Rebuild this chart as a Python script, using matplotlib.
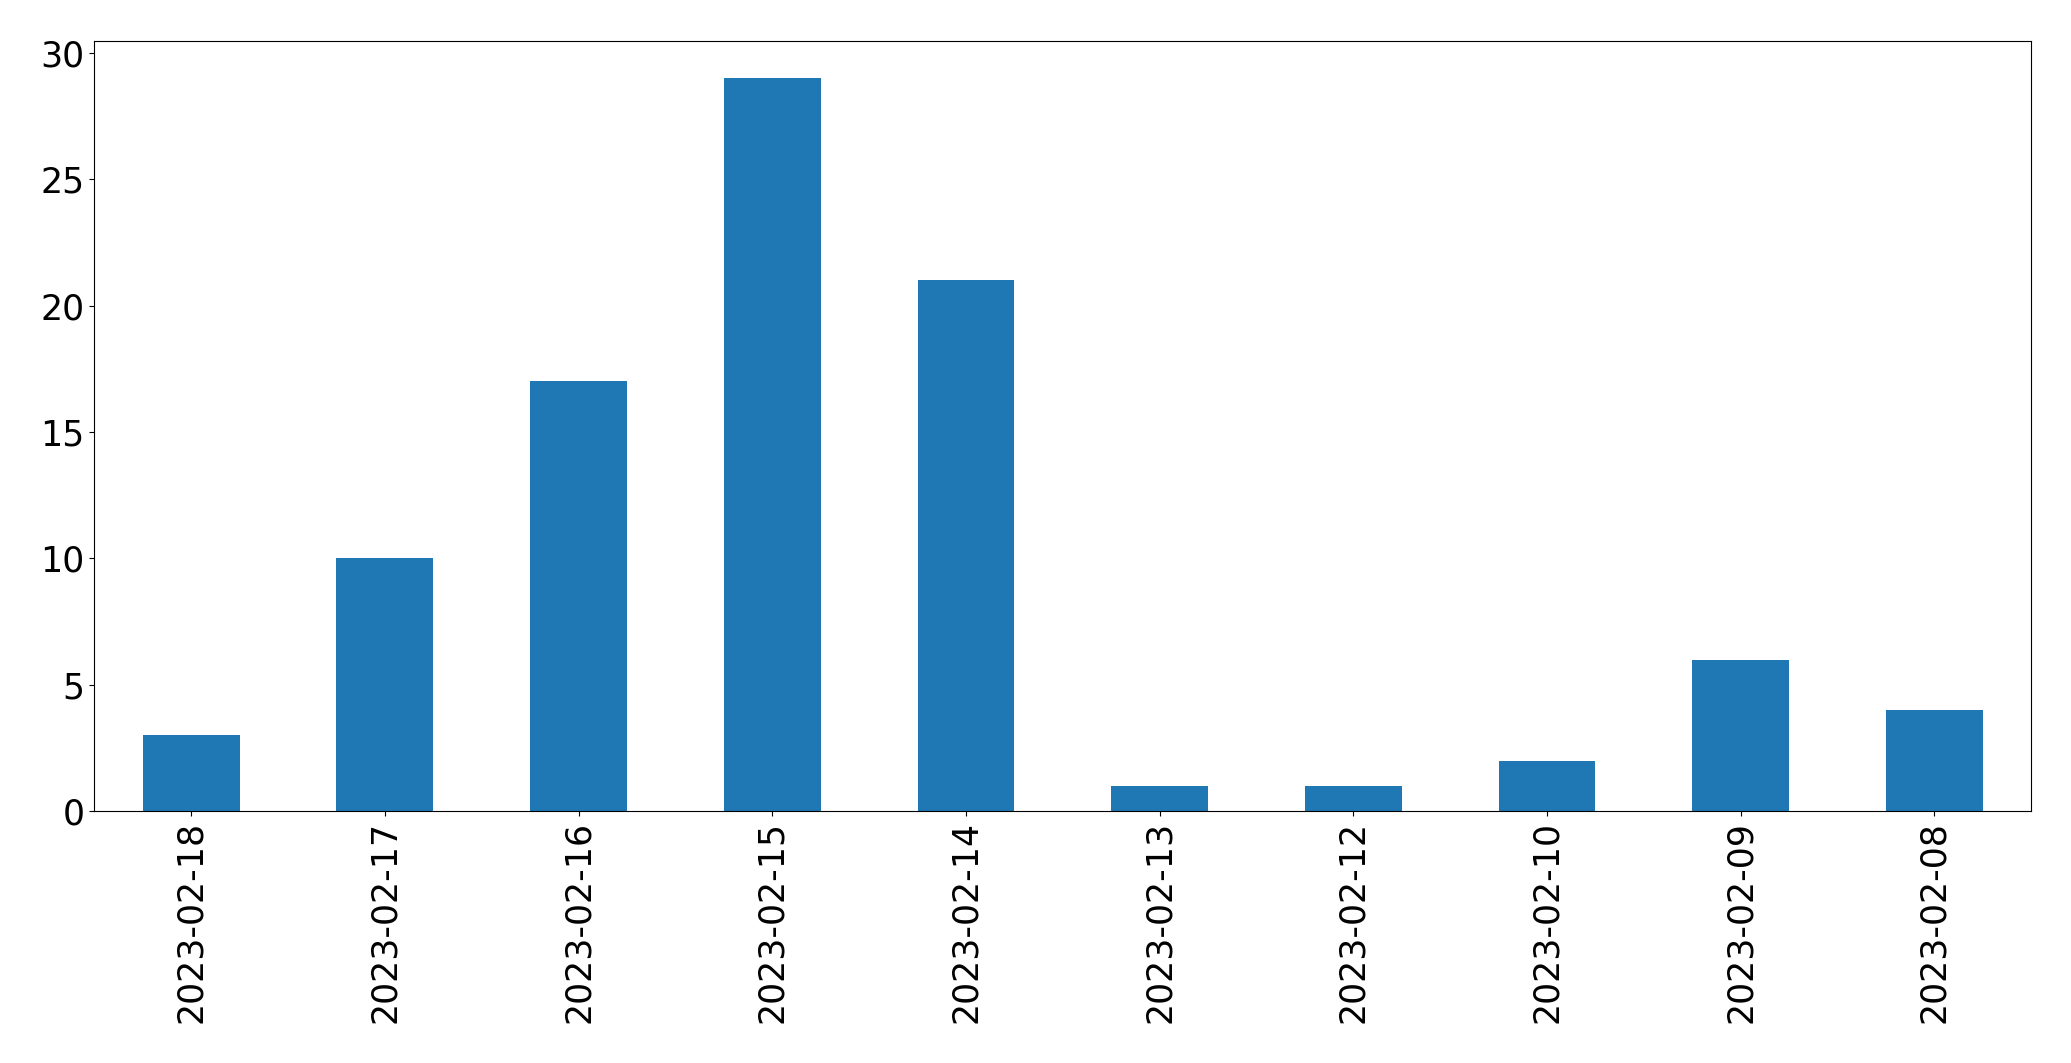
import matplotlib
matplotlib.use("Agg")
import matplotlib.pyplot as plt

dates = ["2023-02-18", "2023-02-17", "2023-02-16", "2023-02-15", "2023-02-14",
         "2023-02-13", "2023-02-12", "2023-02-10", "2023-02-09", "2023-02-08"]
counts = [3, 10, 17, 29, 21, 1, 1, 2, 6, 4]

fig = plt.figure(figsize=(20.71, 10.63), dpi=100)
ax = fig.add_axes([94.3 / 2071, 251.7 / 1063, (2031.3 - 94.3) / 2071, (811.3 - 41.3) / 1063])
x = list(range(len(dates)))
ax.bar(x, counts, width=0.5, color="#1f77b4")
ax.set_xlim(-0.5, len(dates) - 0.5)
ax.set_ylim(0, max(counts) * 1.05)
ax.set_xticks(x)
ax.set_xticklabels(dates, rotation=90)
ax.tick_params(axis="both", labelsize=25)
fig.savefig("out.png", dpi=100)
